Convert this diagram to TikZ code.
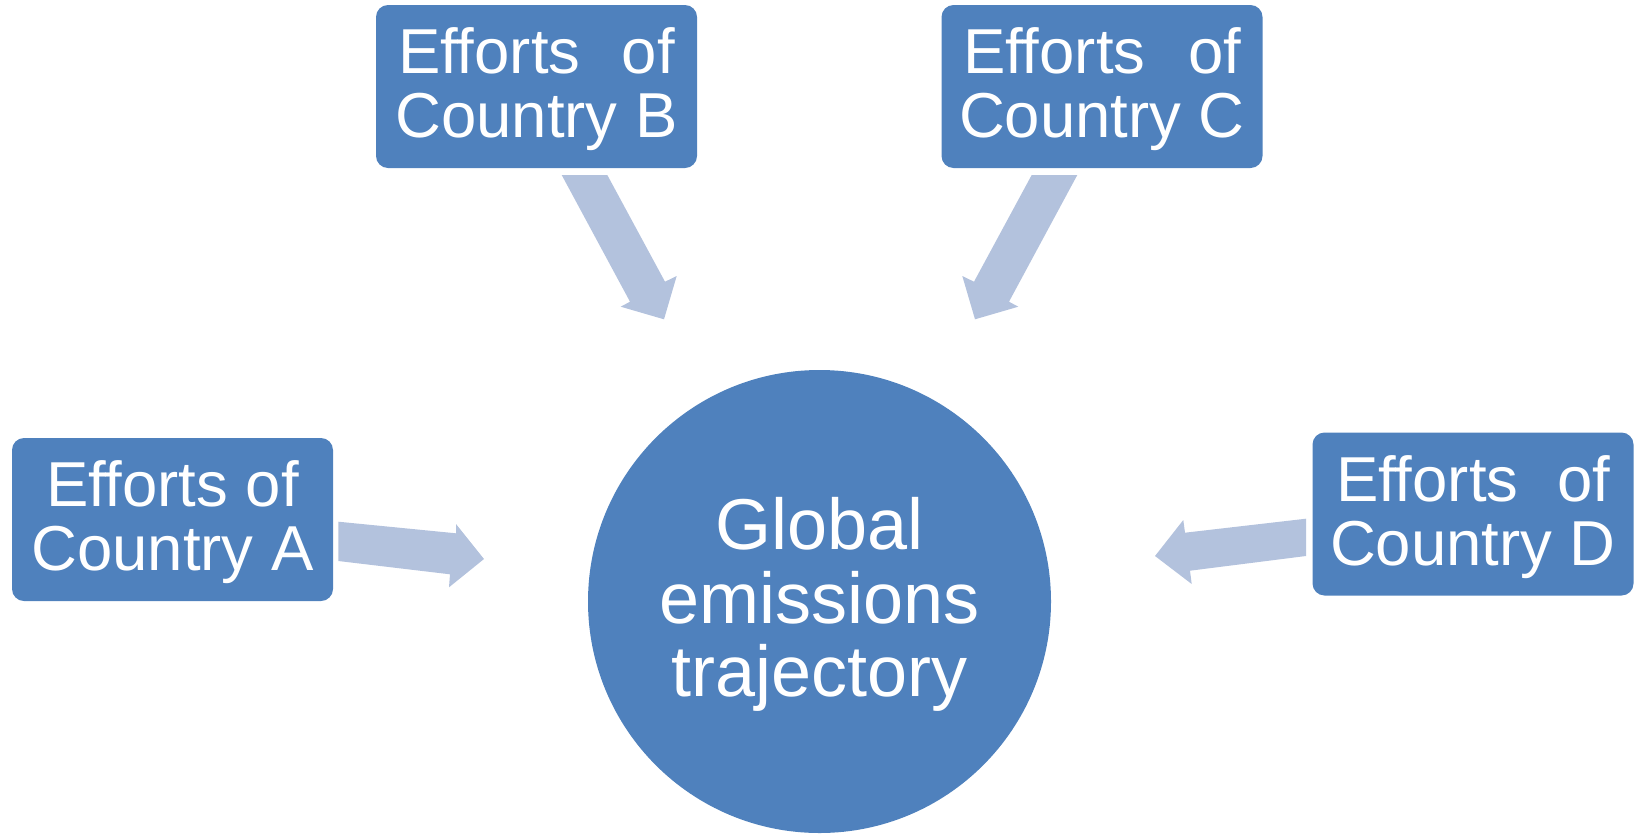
\documentclass[tikz,border=0pt]{standalone}
\usepackage{fontspec}
\setmainfont{Liberation Sans}
\definecolor{boxblue}{HTML}{4F81BD}
\definecolor{arrowblue}{HTML}{B3C2DD}
\begin{document}
\begin{tikzpicture}[x=1pt,y=-1pt,
  effortbox/.style={rectangle, rounded corners=12pt, fill=boxblue,
    minimum width=321pt, minimum height=163pt, inner sep=0pt},
  efforttext/.style={text=white, inner sep=0pt, align=center,
    font=\fontsize{63.5}{64}\selectfont},
  hub/.style={circle, fill=boxblue, minimum size=463pt, inner sep=0pt},
  hubtext/.style={text=white, inner sep=0pt, align=center,
    font=\fontsize{72}{73.5}\selectfont},
  blockarrow/.style={fill=arrowblue, draw=none}]
\useasboundingbox (0,0) rectangle (1639,833);
\node[hub] (G) at (819.5,601.5) {};
\node[hubtext] (Gt) at ([yshift=-3pt]G.center) {Global\\emissions\\trajectory};
\node[effortbox] (B) at (536.5,86.5) {};
\node[efforttext] (Bt) at ([yshift=-3pt]B.center) {Efforts\hspace*{24pt} of\\Country B};
\node[effortbox] (C) at (1102,86.5) {};
\node[efforttext] (Ct) at ([yshift=-3pt]C.center) {Efforts\hspace*{25pt} of\\Country C};
\node[effortbox] (A) at (172.5,519.5) {};
\node[efforttext] (At) at ([yshift=-3pt]A.center) {Efforts of\\Country A};
\node[effortbox] (D) at (1473,514) {};
\node[efforttext] (Dt) at ([yshift=-3pt]D.center) {Efforts\hspace*{21pt} of\\Country D};
% block arrows
\fill[blockarrow] (338.3,521.7) -- (456,533.3) -- (456,524) -- (484,559) -- (449,587.3) -- (450,574.3) -- (338.3,561) -- cycle;
\fill[blockarrow] (1306,518.7) -- (1185,532.7) -- (1183.3,520) -- (1155,556) -- (1191.7,584) -- (1190,570.7) -- (1306,556) -- cycle;
\fill[blockarrow] (561.7,175) -- (607.3,175) -- (665,281.7) -- (676.7,276) -- (664,319.3) -- (620.7,306.7) -- (630,301.7) -- cycle;
\fill[blockarrow] (1077.3,175) -- (1031.7,175) -- (974,281.7) -- (962.3,276) -- (975,319.3) -- (1018.3,306.7) -- (1009,301.7) -- cycle;
\end{tikzpicture}
\end{document}
